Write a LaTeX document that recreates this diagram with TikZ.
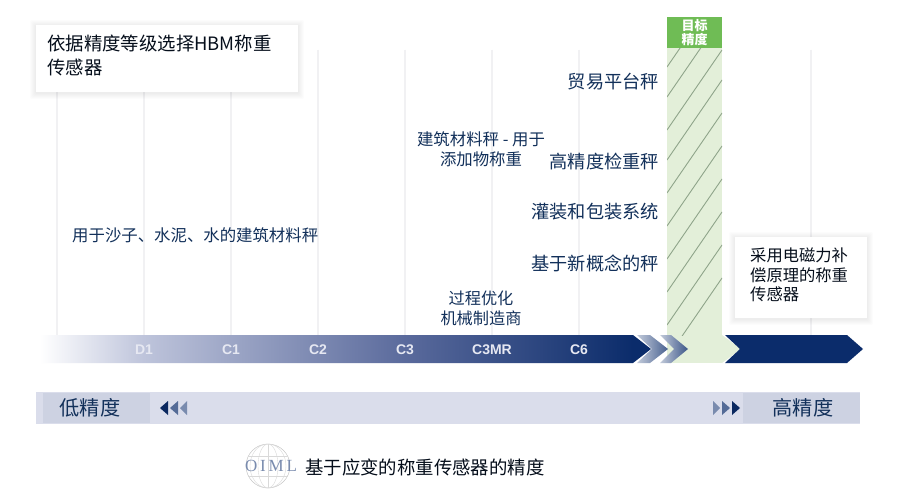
\documentclass[tikz,border=0pt]{standalone}
\usepackage{fontspec}
\setmainfont{Noto Sans CJK SC}
\newfontfamily\latinf{Liberation Sans}
\newfontfamily\logof{Liberation Serif}
\definecolor{navy}{HTML}{0B2C6B}
\definecolor{inkc}{HTML}{12305A}
\definecolor{barc}{HTML}{DADDEB}
\definecolor{barbox}{HTML}{CDD2E2}
\definecolor{bandc}{HTML}{E3EFD9}
\definecolor{greenc}{HTML}{6FBC55}
\definecolor{hatchc}{HTML}{8FA58A}
\definecolor{gridc}{HTML}{F1F1F3}
\definecolor{grade}{HTML}{E6E8F2}
\definecolor{gradA}{HTML}{BEC4DB}
\definecolor{gradB}{HTML}{5A6A9C}
\pgfdeclarehorizontalshading{axisgrad}{100bp}{color(0bp)=(white); color(25bp)=(white); color(33.5bp)=(gradA); color(54.9bp)=(gradB); color(73.5bp)=(navy); color(100bp)=(navy)}
\tikzset{
  x=1pt,y=-1pt,
  gridline/.style={draw=gridc,line width=1.2pt},
  lbl/.style={text=inkc,font=\fontsize{16.4}{20}\selectfont,align=center,inner sep=0pt},
  biglbl/.style={text=inkc,font=\fontsize{18.2}{22}\selectfont,inner sep=0pt},
  grade/.style={text=grade,font=\latinf\bfseries\fontsize{14}{16}\selectfont,inner sep=0pt},
  halo/.style={fill=black,fill opacity=0.012,draw=none,rounded corners=2pt},
  hatchline/.style={draw=hatchc,line width=0.9pt},
}
\begin{document}
\begin{tikzpicture}
\useasboundingbox[fill=white] (0,0) rectangle (900,500);
% grid
\foreach \gx in {57,144,231,318,405,492,579,811}
  \draw[gridline] (\gx,50) -- (\gx,335);
% top card
\foreach \d in {1,2,3,4,5,6}
  \fill[halo] (36-\d,25-\d+1) rectangle (298+\d,92+\d+1);
\node[fill=white,minimum width=262pt,minimum height=67pt,inner sep=0pt] (topcard) at (167,58.5) {};
\node[lbl,anchor=north west,align=left,font=\fontsize{18.4}{23.5}\selectfont,text=black!70!inkc] (toptext) at (47,35) {依据精度等级选择HBM称重\\传感器};
% right card
\foreach \d in {1,2,3,4,5,6}
  \fill[halo] (735-\d,237-\d+1) rectangle (867+\d,318+\d+1);
\node[fill=white,minimum width=132pt,minimum height=81pt,inner sep=0pt] (rightcard) at (801,277.5) {};
\node[lbl,anchor=north west,align=left,font=\fontsize{16.3}{19.5}\selectfont,text=black!70!inkc] (righttext) at (750,248) {采用电磁力补\\偿原理的称重\\传感器};
% green band
\fill[bandc] (667,48) rectangle (722,363);
\begin{scope}
\clip (667,48) rectangle (722,335);
\foreach \yy in {67,97,130,160,193,226,259,292,325,358}
  \draw[hatchline] (667,\yy) -- (722,\yy-80);
\end{scope}
\node[fill=greenc,minimum width=55pt,minimum height=31pt,inner sep=0pt] (target) at (694.5,32.5) {};
\node[text=white,font=\bfseries\fontsize{13}{13.5}\selectfont,align=center,inner sep=0pt] (targettext) at (694.5,32.5) {目标\\精度};
% main arrow with gradient
\shade[shading=axisgrad] (40,335) -- (633,335) -- (651,349) -- (633,363) -- (40,363) -- cycle;
\shade[left color=navy!25!white,right color=navy!75!white] (637,335) -- (650,335) -- (668,349) -- (650,363) -- (637,363) -- (652,349) -- cycle;
\shade[left color=navy!25!white,right color=navy!80!white] (660,335) -- (671,335) -- (688,349) -- (671,363) -- (660,363) -- (674,349) -- cycle;
\fill[bandc] (722,335) -- (741,349) -- (722,363) -- cycle;
\fill[navy] (725,335) -- (847,335) -- (863,349) -- (847,363) -- (725,363) -- (740,349) -- cycle;
% grades
\node[grade] (d1) at (144,350) {D1};
\node[grade] (c1) at (231,350) {C1};
\node[grade] (c2) at (318,350) {C2};
\node[grade] (c3) at (405,350) {C3};
\node[grade] (c3mr) at (492,350) {C3MR};
\node[grade] (c6) at (579,350) {C6};
% lower bar
\fill[barc] (36,392) rectangle (860,424);
\fill[barbox] (43,393) rectangle (150,423);
\fill[barbox] (743,393) rectangle (860,423);
\node[biglbl,font=\fontsize{20.2}{24}\selectfont] (low) at (90,408) {低精度};
\node[biglbl,font=\fontsize{20.2}{24}\selectfont] (high) at (803,408) {高精度};
\fill[navy!90!black] (160,408) -- (168,401) -- (168,415) -- cycle;
\fill[navy!70!white] (170,408) -- (178,401) -- (178,415) -- cycle;
\fill[navy!55!white] (180,408) -- (187,401) -- (187,415) -- cycle;
\fill[navy!55!white] (713,401) -- (720,408) -- (713,415) -- cycle;
\fill[navy!70!white] (722,401) -- (730,408) -- (722,415) -- cycle;
\fill[navy!90!black] (732,401) -- (740,408) -- (732,415) -- cycle;
% labels
\node[biglbl,anchor=east] (l1) at (659,82) {贸易平台秤};
\node[biglbl,anchor=east] (l2) at (659,162) {高精度检重秤};
\node[biglbl,anchor=east] (l3) at (659,212) {灌装和包装系统};
\node[biglbl,anchor=east] (l4) at (659,263) {基于新概念的秤};
\node[lbl,font=\fontsize{16.4}{20}\selectfont] (l5) at (481,149) {建筑材料秤 - 用于\\添加物称重};
\node[lbl,font=\fontsize{16.2}{20}\selectfont] (l6) at (481,308) {过程优化\\机械制造商};
\node[lbl,font=\fontsize{16.4}{19}\selectfont,anchor=west] (l7) at (72,235) {用于沙子、水泥、水的建筑材料秤};
% logo
\draw[gray!45,line width=0.5pt] (268,466) circle (22);
\draw[gray!30,line width=0.4pt] (268,466) ellipse (10 and 22) (268,466) ellipse (18 and 22);
\draw[gray!30,line width=0.4pt] (248,456) -- (288,456) (248,476) -- (288,476) (268,444) -- (268,488);
\node[text=navy!55!white,font=\logof\fontsize{17}{18}\selectfont,inner sep=0pt] (oiml) at (271,466) {O\,I\,M\,L};
\node[lbl,anchor=west,font=\fontsize{18.4}{22}\selectfont,text=black!70!inkc] (caption) at (305,467) {基于应变的称重传感器的精度};
\end{tikzpicture}
\end{document}
